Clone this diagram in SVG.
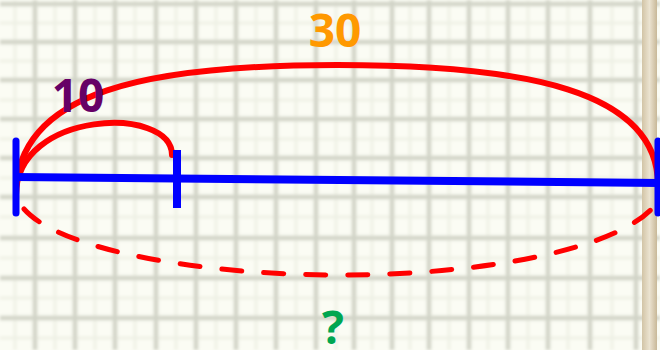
<svg xmlns="http://www.w3.org/2000/svg" width="660" height="350" viewBox="0 0 660 350">
  <style>
    .major { stroke: #dcded2; stroke-width: 5; }
    .majorc { stroke: #cfd1c5; stroke-width: 2; }
    .minor { stroke: #eff1e6; stroke-width: 3; }
    .blue { stroke: #0000ff; stroke-width: 8; fill: none; stroke-linecap: butt; }
    .tick { stroke: #0000ff; stroke-width: 7; fill: none; stroke-linecap: round; }
    .arc { stroke: #ff0000; stroke-width: 6; fill: none; stroke-linecap: round; }
    .dash { stroke: #ff0000; stroke-width: 5; fill: none; stroke-linecap: round; stroke-dasharray: 20 22; }
    .lbl { font-family: "Open Sans", "Liberation Sans", sans-serif; font-weight: bold; font-size: 46px; text-anchor: middle; }
  </style>
  <defs>
    <linearGradient id="edge" x1="0" y1="0" x2="1" y2="0">
      <stop offset="0" stop-color="#d2c4a6"/>
      <stop offset="0.5" stop-color="#ebe3d0"/>
      <stop offset="1" stop-color="#c8b898"/>
    </linearGradient>
    <filter id="soft" x="-5%" y="-5%" width="110%" height="110%">
      <feGaussianBlur stdDeviation="1.4"/>
    </filter>
  </defs>
  <g id="background">
    <rect width="660" height="350" fill="#fbfcf4"/>
    <g id="grid" filter="url(#soft)">
      <path class="minor" d="M15 0V350M55 0V350M95 0V350M135 0V350M176 0V350M216 0V350M256 0V350M296 0V350M336 0V350M372 0V350M410 0V350M449 0V350M488 0V350M528 0V350M568 0V350M612 0V350"/>
      <path class="minor" d="M0 23H660M0 61H660M0 100H660M0 139H660M0 178H660M0 217H660M0 258H660M0 298H660M0 338H660"/>
      <path class="major" d="M35 0V350M75 0V350M115 0V350M156 0V350M196 0V350M236 0V350M276 0V350M316 0V350M354 0V350M392 0V350M429 0V350M469 0V350M508 0V350M548 0V350M590 0V350M636 0V350"/>
      <path class="major" d="M0 4H660M0 42H660M0 80H660M0 119H660M0 158H660M0 197H660M0 238H660M0 278H660M0 318H660"/>
      <path class="majorc" d="M35 0V350M75 0V350M115 0V350M156 0V350M196 0V350M236 0V350M276 0V350M316 0V350M354 0V350M392 0V350M429 0V350M469 0V350M508 0V350M548 0V350M590 0V350M636 0V350"/>
      <path class="majorc" d="M0 4H660M0 42H660M0 80H660M0 119H660M0 158H660M0 197H660M0 238H660M0 278H660M0 318H660"/>
    </g>
    <rect x="642" y="0" width="15" height="350" fill="url(#edge)"/>
  </g>
  <g id="connectors">
    <path id="arc-30" class="arc" d="M16 195C16 90 150 65 337 65C524 65 658 90 658 185"/>
    <path id="arc-10" class="arc" d="M16 195C16 110 172 105 172 155"/>
    <path id="arc-unknown" class="dash" d="M24 209C60 250 200 275 340 275C480 275 620 250 656 204"/>
  </g>
  <g id="segment">
    <line class="blue" x1="15" y1="177" x2="660" y2="183"/>
    <line class="tick" x1="16" y1="141" x2="16" y2="213"/>
    <line class="blue" x1="177" y1="150" x2="177" y2="208"/>
    <line class="tick" x1="658" y1="141" x2="658" y2="213"/>
  </g>
  <g id="label-10"><text class="lbl" x="78" y="112" fill="#660066">10</text></g>
  <g id="label-30"><text class="lbl" x="335" y="47" fill="#ff9900">30</text></g>
  <g id="label-q"><text class="lbl" x="333" y="344" fill="#00a651">?</text></g>
</svg>
